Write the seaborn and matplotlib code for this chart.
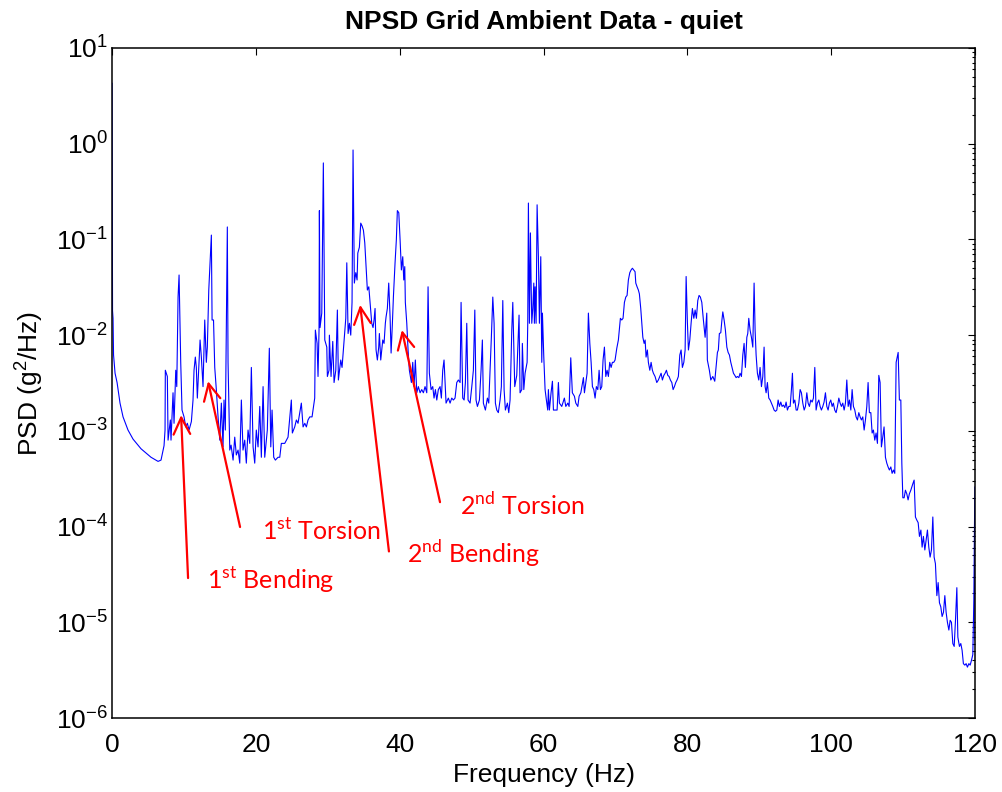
import matplotlib
matplotlib.use("Agg")
import matplotlib.pyplot as plt
import seaborn as sns
import pandas as pd

# ---- PSD trace, split in frequency bands ----
freq_decay = [0.00, 0.07, 0.14, 0.21, 0.42, 0.70, 1.11, 1.53, 2.22, 2.92,
              4.03, 5.42, 6.40, 6.81, 7.23, 7.37]
psd_decay = [4.3, 0.018, 0.015, 6.2e-3, 4.0e-3, 3.2e-3, 1.95e-3, 1.4e-3, 1.02e-3, 8.2e-4,
             6.5e-4, 5.3e-4, 4.8e-4, 4.95e-4, 7.0e-4, 1.02e-3]

freq_band1 = [
    7.41, 7.69, 7.79, 8.11, 8.20, 8.48, 8.62, 8.86, 9.00, 9.18,
    9.32, 9.55, 9.73, 10.01, 10.25, 10.47, 10.71, 11.03, 11.26, 11.40,
    11.58, 11.72, 11.86, 12.06, 12.24, 12.42, 12.65, 12.89, 13.11, 13.25,
    13.45, 13.81, 13.91, 14.11, 14.28, 14.50, 14.74, 14.98, 15.20, 15.43,
    15.57, 15.75, 16.03, 16.13, 16.37, 16.55, 16.83, 17.06, 17.28, 17.52,
    17.76, 17.98, 18.21, 18.45, 18.67, 18.91, 19.15, 19.37, 19.61, 19.84,
    20.06, 20.30, 20.54, 20.76, 21.00, 21.23, 21.59, 21.87, 22.07, 22.25,
    22.48, 22.71, 23.08, 23.32, 23.54, 24.01, 24.47, 24.93, 25.07, 25.40,
    25.63, 25.86, 26.32, 26.56, 26.80, 27.02, 27.25, 27.49, 27.81, 28.18]
psd_band1 = [
    4.3e-3, 3.7e-3, 8.0e-4, 1.3e-3, 8.0e-4, 2.5e-3, 1.2e-3, 4.3e-3, 2.9e-3, 0.025,
    0.0425, 5.2e-3, 1.65e-3, 1.4e-3, 1.1e-3, 1.2e-3, 1.02e-3, 1.25e-3, 2.1e-3, 4.3e-3,
    5.9e-3, 4.6e-3, 2.2e-3, 4.6e-3, 8.9e-3, 5.9e-3, 2.9e-3, 0.0144, 5.2e-3, 7.5e-3,
    0.0296, 0.111, 0.0144, 0.0144, 4.6e-3, 2.7e-3, 1.4e-3, 8.0e-4, 1.95e-3, 6.8e-4,
    2.1e-3, 1.02e-3, 0.135, 5.2e-3, 6.3e-4, 7.1e-4, 4.95e-4, 8.6e-4, 5.6e-4, 6.3e-4,
    4.6e-4, 2.1e-3, 6.3e-4, 8.0e-4, 4.6e-4, 1.02e-3, 7.4e-4, 4.6e-3, 6.8e-4, 4.6e-4,
    1.02e-3, 6.8e-4, 1.8e-3, 5.3e-4, 2.9e-3, 5.3e-4, 1.02e-3, 7.3e-3, 6.8e-4, 1.65e-3,
    5.3e-4, 4.95e-4, 5.3e-4, 5.3e-4, 7.4e-4, 7.4e-4, 8.6e-4, 2.1e-3, 9.5e-4, 1.1e-3,
    1.3e-3, 1.2e-3, 1.95e-3, 1.1e-3, 1.2e-3, 1.1e-3, 1.3e-3, 1.4e-3, 1.4e-3, 2.2e-3]

freq_band2 = [
    28.27, 28.51, 28.64, 28.78, 28.83, 28.92, 29.16, 29.38, 29.58, 29.86,
    29.94, 30.17, 30.22, 30.45, 30.69, 30.87, 31.11, 31.33, 31.47, 31.80,
    31.98, 32.30, 32.50, 32.64, 32.82, 33.00, 33.19, 33.37, 33.51, 33.69,
    33.89, 34.07, 34.17, 34.39, 34.58, 34.77, 34.95, 35.14, 35.32, 35.50,
    35.70, 35.88, 36.11, 36.29, 36.43, 36.57, 36.71, 36.89, 37.08, 37.17,
    37.36, 37.64, 37.82, 38.00, 38.10, 38.28, 38.47, 38.66, 38.80, 38.98,
    39.12, 39.35, 39.53, 39.67, 39.87, 40.05, 40.23, 40.42, 40.56, 40.70,
    40.78, 40.98, 41.16, 41.34, 41.62, 41.81, 41.99, 42.17, 42.37, 42.59,
    42.83, 43.06, 43.29, 43.52, 43.76, 43.94, 44.12, 44.36, 44.59, 44.77,
    44.96, 45.15, 45.37, 45.61, 45.79, 45.98, 46.16, 46.44, 46.76, 47.00,
    47.23, 47.46, 47.69, 47.93, 48.15, 48.39, 48.53, 48.76, 48.95, 49.13,
    49.32, 49.50, 49.78, 50.02, 50.24, 50.44, 50.61, 50.80, 51.08, 51.31,
    51.49, 51.63, 51.91, 52.19, 52.38, 52.56, 52.74, 52.94, 53.12, 53.30,
    53.49, 53.71, 53.95, 54.13, 54.33, 54.51, 54.69, 54.97, 55.16, 55.34,
    55.58, 55.72, 55.99, 56.27]
psd_band2 = [
    0.0113, 8.2e-3, 3.7e-3, 0.0113, 0.20, 0.012, 0.017, 0.63, 8.9e-3, 7.5e-3,
    3.7e-3, 4.3e-3, 0.010, 3.7e-3, 8.6e-3, 3.2e-3, 4.3e-3, 0.0183, 3.4e-3, 5.5e-3,
    4.6e-3, 9.5e-3, 0.015, 0.057, 0.0104, 0.0133, 0.010, 0.022, 0.86, 0.035,
    0.045, 0.0377, 0.072, 0.083, 0.148, 0.138, 0.125, 0.092, 0.052, 0.0296,
    0.032, 0.022, 0.0133, 0.012, 0.0144, 0.019, 7.0e-3, 5.5e-3, 7.5e-3, 0.0104,
    5.5e-3, 8.9e-3, 8.2e-3, 0.0133, 0.0155, 0.019, 0.035, 0.0155, 6.5e-3, 0.0133,
    0.025, 0.057, 0.099, 0.20, 0.19, 0.099, 0.048, 0.066, 0.0377, 0.052,
    0.022, 0.0133, 7.0e-3, 4.3e-3, 3.2e-3, 5.2e-3, 2.9e-3, 5.5e-3, 2.5e-3, 2.9e-3,
    2.5e-3, 2.7e-3, 2.5e-3, 2.9e-3, 2.5e-3, 0.032, 4.0e-3, 2.7e-3, 2.9e-3, 2.2e-3,
    2.7e-3, 2.1e-3, 2.7e-3, 2.9e-3, 2.2e-3, 4.3e-3, 5.5e-3, 1.95e-3, 2.2e-3, 1.95e-3,
    2.2e-3, 2.1e-3, 2.2e-3, 3.2e-3, 3.4e-3, 3.2e-3, 0.022, 2.2e-3, 2.1e-3, 3.2e-3,
    0.0133, 2.1e-3, 1.95e-3, 2.9e-3, 4.3e-3, 0.0183, 2.1e-3, 1.8e-3, 2.1e-3, 4.3e-3,
    8.9e-3, 1.95e-3, 1.65e-3, 2.2e-3, 1.95e-3, 4.3e-3, 9.5e-3, 0.025, 0.0133, 1.95e-3,
    1.65e-3, 1.55e-3, 2.1e-3, 2.9e-3, 0.023, 2.7e-3, 1.65e-3, 1.95e-3, 1.55e-3, 2.1e-3,
    0.0113, 0.022, 2.9e-3, 3.8e-3]

freq_band3 = [
    56.59, 56.73, 56.97, 57.05, 57.25, 57.43, 57.71, 57.80, 57.89, 58.03,
    58.17, 58.26, 58.36, 58.50, 58.64, 58.72, 58.82, 58.96, 59.10, 59.28,
    59.42, 59.61, 59.75, 59.84, 60.03, 60.21, 60.39, 60.58, 60.67, 60.81,
    61.04, 61.23, 61.37, 61.60, 61.88, 62.06, 62.20, 62.53, 62.89, 63.09,
    63.37, 63.55, 63.78, 64.00, 64.29, 64.48, 64.76, 64.94, 65.18, 65.54,
    65.68, 65.87, 66.05, 66.23, 66.43, 66.61, 66.79, 66.98, 67.16, 67.34,
    67.54, 67.72, 67.90, 68.09, 68.27, 68.46, 68.65, 68.83, 69.01, 69.20,
    69.39, 69.57, 69.76, 69.94, 70.18, 70.40, 70.68, 70.87, 71.05, 71.24,
    71.43, 71.61, 71.79, 71.99, 72.17, 72.35, 72.54, 72.72, 72.82, 73.00,
    73.18, 73.32, 73.51, 73.66, 73.80, 73.98, 74.12, 74.25, 74.43, 74.57,
    74.77, 74.95, 75.13, 75.27, 75.50, 75.74, 75.96, 76.16, 76.34, 76.52,
    76.72, 76.90, 77.08, 77.27, 77.45, 77.63, 77.83, 78.01, 78.19, 78.38,
    78.56, 78.74, 78.94, 79.12, 79.30, 79.50, 79.68, 79.82, 80.00, 80.14,
    80.33, 80.51, 80.69, 80.89, 81.07, 81.25, 81.44, 81.62, 81.80, 82.00]
psd_band3 = [
    0.0162, 2.5e-3, 2.7e-3, 8.2e-3, 2.7e-3, 4.0e-3, 5.2e-3, 0.0133, 0.24, 0.0133,
    0.117, 0.0377, 0.0133, 0.019, 0.035, 0.0133, 0.032, 0.0133, 0.23, 0.066,
    0.0133, 0.066, 5.2e-3, 0.017, 5.9e-3, 2.7e-3, 2.1e-3, 1.65e-3, 2.7e-3, 1.65e-3,
    2.5e-3, 3.3e-3, 1.65e-3, 1.65e-3, 1.65e-3, 3.2e-3, 1.95e-3, 1.8e-3, 2.2e-3, 1.8e-3,
    1.95e-3, 1.8e-3, 5.8e-3, 2.5e-3, 2.3e-3, 1.95e-3, 1.8e-3, 2.3e-3, 2.5e-3, 3.6e-3,
    2.5e-3, 3.2e-3, 4.0e-3, 0.017, 8.2e-3, 5.2e-3, 2.9e-3, 2.7e-3, 2.2e-3, 2.9e-3,
    2.7e-3, 4.3e-3, 2.7e-3, 2.9e-3, 5.5e-3, 7.5e-3, 3.7e-3, 4.3e-3, 3.7e-3, 5.2e-3,
    4.6e-3, 5.2e-3, 5.2e-3, 5.5e-3, 7.3e-3, 8.9e-3, 0.015, 0.0144, 0.015, 0.022,
    0.025, 0.026, 0.0377, 0.045, 0.048, 0.050, 0.048, 0.046, 0.035, 0.032,
    0.0296, 0.027, 0.019, 0.0133, 9.5e-3, 8.2e-3, 8.9e-3, 5.9e-3, 7.0e-3, 5.2e-3,
    4.3e-3, 5.2e-3, 4.3e-3, 4.0e-3, 3.7e-3, 3.2e-3, 3.4e-3, 3.7e-3, 4.0e-3, 3.4e-3,
    3.8e-3, 4.0e-3, 4.3e-3, 3.8e-3, 3.7e-3, 3.4e-3, 3.2e-3, 2.7e-3, 2.9e-3, 3.2e-3,
    3.4e-3, 3.7e-3, 6.2e-3, 7.0e-3, 4.6e-3, 5.2e-3, 7.0e-3, 0.041, 0.0133, 7.0e-3,
    8.9e-3, 0.0133, 0.019, 0.015, 0.0183, 0.015, 0.023, 0.026, 0.025, 0.022]

freq_band4 = [
    82.22, 82.46, 82.69, 82.77, 83.05, 83.25, 83.53, 83.80, 83.98, 84.17,
    84.30, 84.44, 84.64, 84.78, 84.92, 85.10, 85.28, 85.48, 85.66, 85.84,
    86.03, 86.21, 86.40, 86.59, 86.77, 86.95, 87.15, 87.32, 87.51, 87.70,
    87.88, 88.06, 88.26, 88.39, 88.53, 88.71, 88.90, 89.09, 89.27, 89.41,
    89.55, 89.73, 89.92, 90.10, 90.29, 90.48, 90.66, 90.80, 90.94, 91.12,
    91.31, 91.50, 91.68, 91.87, 92.05, 92.24, 92.43, 92.61, 92.79, 92.98,
    93.16, 93.35, 93.54, 93.72, 93.90, 94.09, 94.28, 94.46, 94.60, 94.74,
    94.93, 95.12, 95.29, 95.49, 95.67, 95.85, 96.04, 96.23, 96.41, 96.60,
    96.78, 96.96, 97.15, 97.34, 97.52, 97.71, 97.89, 98.07, 98.27, 98.45,
    98.63, 98.82, 99.00, 99.19, 99.38, 99.56, 99.74, 99.93, 100.12, 100.29,
    100.48, 100.67, 100.86, 101.05, 101.23, 101.41, 101.60, 101.79, 101.97, 102.16,
    102.35, 102.53, 102.72, 102.90, 103.08, 103.27, 103.45, 103.64, 103.83, 104.01,
    104.19, 104.38, 104.57, 104.75, 104.94, 105.12, 105.30, 105.50, 105.68, 105.86,
    106.05, 106.23, 106.42, 106.61, 106.79, 106.97, 107.16, 107.34, 107.53, 107.72,
    107.90, 108.08, 108.28, 108.46, 108.64, 108.83, 109.02, 109.30, 109.47, 109.67,
    109.81, 109.95, 110.13, 110.31, 110.50, 110.68, 110.86, 111.06, 111.34, 111.52,
    111.70, 111.89, 112.08, 112.26, 112.46, 112.63, 112.81, 113.01, 113.19, 113.37,
    113.56, 113.74, 113.93, 114.12, 114.30, 114.48, 114.68, 114.86, 115.04, 115.23,
    115.41, 115.60, 115.79, 115.97, 116.15, 116.35, 116.53, 116.71, 116.90, 117.09,
    117.27, 117.46, 117.60, 117.82, 118.01, 118.19, 118.37, 118.57, 118.75, 118.93,
    119.13, 119.31, 119.49, 119.68, 119.82, 119.96, 120.00]
psd_band4 = [
    0.0144, 9.5e-3, 0.017, 5.5e-3, 4.3e-3, 3.4e-3, 3.7e-3, 3.3e-3, 4.6e-3, 6.6e-3,
    7.0e-3, 0.0104, 0.0106, 0.014, 0.0175, 0.0144, 0.0113, 7.5e-3, 6.6e-3, 6.2e-3,
    5.2e-3, 4.6e-3, 4.0e-3, 3.8e-3, 3.6e-3, 3.7e-3, 3.6e-3, 4.0e-3, 3.7e-3, 6.2e-3,
    8.2e-3, 4.6e-3, 9.5e-3, 0.0104, 0.015, 0.0113, 9.5e-3, 7.5e-3, 0.035, 0.0113,
    6.2e-3, 4.0e-3, 3.4e-3, 4.6e-3, 2.9e-3, 3.7e-3, 7.5e-3, 2.9e-3, 2.5e-3, 3.2e-3,
    2.2e-3, 2.1e-3, 1.95e-3, 1.8e-3, 1.65e-3, 1.6e-3, 1.65e-3, 2.1e-3, 1.8e-3, 2.0e-3,
    1.8e-3, 1.86e-3, 1.75e-3, 2.0e-3, 1.65e-3, 1.8e-3, 1.8e-3, 2.7e-3, 4.0e-3, 1.95e-3,
    2.1e-3, 1.65e-3, 1.65e-3, 1.95e-3, 2.7e-3, 2.5e-3, 1.95e-3, 1.65e-3, 1.8e-3, 2.5e-3,
    1.95e-3, 1.8e-3, 2.1e-3, 2.0e-3, 2.2e-3, 4.6e-3, 1.65e-3, 1.95e-3, 2.1e-3, 1.8e-3,
    1.65e-3, 1.8e-3, 2.0e-3, 2.5e-3, 1.8e-3, 1.65e-3, 1.95e-3, 2.1e-3, 1.8e-3, 1.95e-3,
    1.65e-3, 1.55e-3, 1.8e-3, 2.2e-3, 1.95e-3, 1.8e-3, 1.95e-3, 1.65e-3, 1.95e-3, 3.4e-3,
    1.8e-3, 2.1e-3, 1.65e-3, 2.7e-3, 1.8e-3, 1.65e-3, 1.4e-3, 1.3e-3, 1.55e-3, 1.4e-3,
    1.3e-3, 1.4e-3, 1.02e-3, 1.3e-3, 1.8e-3, 3.2e-3, 1.55e-3, 1.55e-3, 9.5e-4, 1.02e-3,
    8.0e-4, 9.5e-4, 7.4e-4, 3.8e-3, 3.2e-3, 6.8e-4, 8.6e-4, 1.1e-3, 5.3e-4, 4.6e-4,
    4.2e-4, 3.9e-4, 4.2e-4, 3.6e-4, 3.9e-4, 3.6e-4, 5.2e-3, 6.6e-3, 2.1e-3, 2.1e-3,
    4.6e-4, 2.0e-4, 2.0e-4, 2.4e-4, 2.2e-4, 1.9e-4, 2.2e-4, 2.4e-4, 2.8e-4, 3.06e-4,
    1.26e-4, 1.17e-4, 1.1e-4, 7.9e-5, 9.2e-5, 6.1e-5, 7.9e-5, 5.7e-5, 7.2e-5, 9.2e-5,
    6.1e-5, 4.8e-5, 5.7e-5, 1.26e-4, 4.8e-5, 4.1e-5, 1.9e-5, 2.6e-5, 1.6e-5, 1.45e-5,
    1.15e-5, 1.27e-5, 1.9e-5, 1.27e-5, 1.0e-5, 8.3e-6, 1.05e-5, 1.0e-5, 6.0e-6, 5.6e-6,
    1.05e-5, 2.3e-5, 7.0e-6, 5.6e-6, 6.0e-6, 5.1e-6, 3.7e-6, 3.57e-6, 3.7e-6, 3.4e-6,
    3.7e-6, 3.57e-6, 4.0e-6, 4.6e-6, 1.7e-5, 2.6e-4, 6.5e-6]

# ---- mode annotations (arrow tip on the peak, arrow tail, label position) ----
mode_names = ["1$^{\\mathdefault{st}}$ Bending", "1$^{\\mathdefault{st}}$ Torsion",
              "2$^{\\mathdefault{nd}}$ Bending", "2$^{\\mathdefault{nd}}$ Torsion"]
mode_tip_freq = [9.6, 13.35, 34.5, 40.3]
mode_tip_psd = [1.46e-3, 3.3e-3, 0.0207, 0.0113]
mode_tail_freq = [10.57, 17.8, 38.5, 45.6]
mode_tail_psd = [2.9e-5, 9.9e-5, 5.5e-5, 1.8e-4]
mode_label_freq = [13.2, 20.9, 41.0, 48.4]
mode_label_psd = [2.75e-5, 9.1e-5, 5.2e-5, 1.68e-4]

freq = freq_decay + freq_band1 + freq_band2 + freq_band3 + freq_band4
psd = psd_decay + psd_band1 + psd_band2 + psd_band3 + psd_band4
df = pd.DataFrame({"freq": freq, "psd": psd})

sns.set_style("white")
plt.rcParams["font.family"] = ["Liberation Sans", "DejaVu Sans"]
plt.rcParams["axes.unicode_minus"] = False
plt.rcParams["text.color"] = "black"
plt.rcParams["axes.labelcolor"] = "black"

fig = plt.figure(figsize=(10.03, 7.92), dpi=100)
ax = fig.add_axes([0.1117, 0.0934, 0.8605, 0.846])

sns.lineplot(x="freq", y="psd", data=df, ax=ax, color="#0000ff",
             linewidth=0.8, estimator=None, sort=False)
ax.set_yscale("log")
ax.set_xlim(0, 120)
ax.set_ylim(1e-6, 10)
ax.set_xticks(range(0, 121, 20))

ax.tick_params(which="both", direction="in", top=True, right=True,
               colors="black", labelcolor="black", width=0.8, labelsize=19)
ax.tick_params(which="major", length=5)
ax.tick_params(which="minor", length=2.5)
ax.tick_params(axis="x", which="major", pad=11)
ax.tick_params(axis="y", which="major", pad=3)
ax.tick_params(axis="x", which="minor", bottom=False, top=False)
for sp in ax.spines.values():
    sp.set_color("black")
    sp.set_linewidth(1.1)

ax.set_title("NPSD Grid Ambient Data - quiet", fontsize=19, fontweight="bold",
             pad=14, color="black")
ax.set_xlabel("Frequency (Hz)", fontsize=19, labelpad=4)
ax.set_ylabel("PSD (g$^{\\mathdefault{2}}$/Hz)", fontsize=19, labelpad=8)

for name, tf, tp, af, ap, lf, lp in zip(mode_names, mode_tip_freq, mode_tip_psd,
                                        mode_tail_freq, mode_tail_psd,
                                        mode_label_freq, mode_label_psd):
    ax.annotate("", xy=(tf, tp), xytext=(af, ap),
                arrowprops=dict(arrowstyle="->,head_length=0.6,head_width=0.3",
                                color="red", lw=1.6, mutation_scale=20,
                                shrinkA=0, shrinkB=0))
    ax.text(lf, lp, name, color="red", fontsize=18, ha="left", va="center",
            family=["Lato", "DejaVu Sans"])

fig.savefig("out.png", dpi=100)
